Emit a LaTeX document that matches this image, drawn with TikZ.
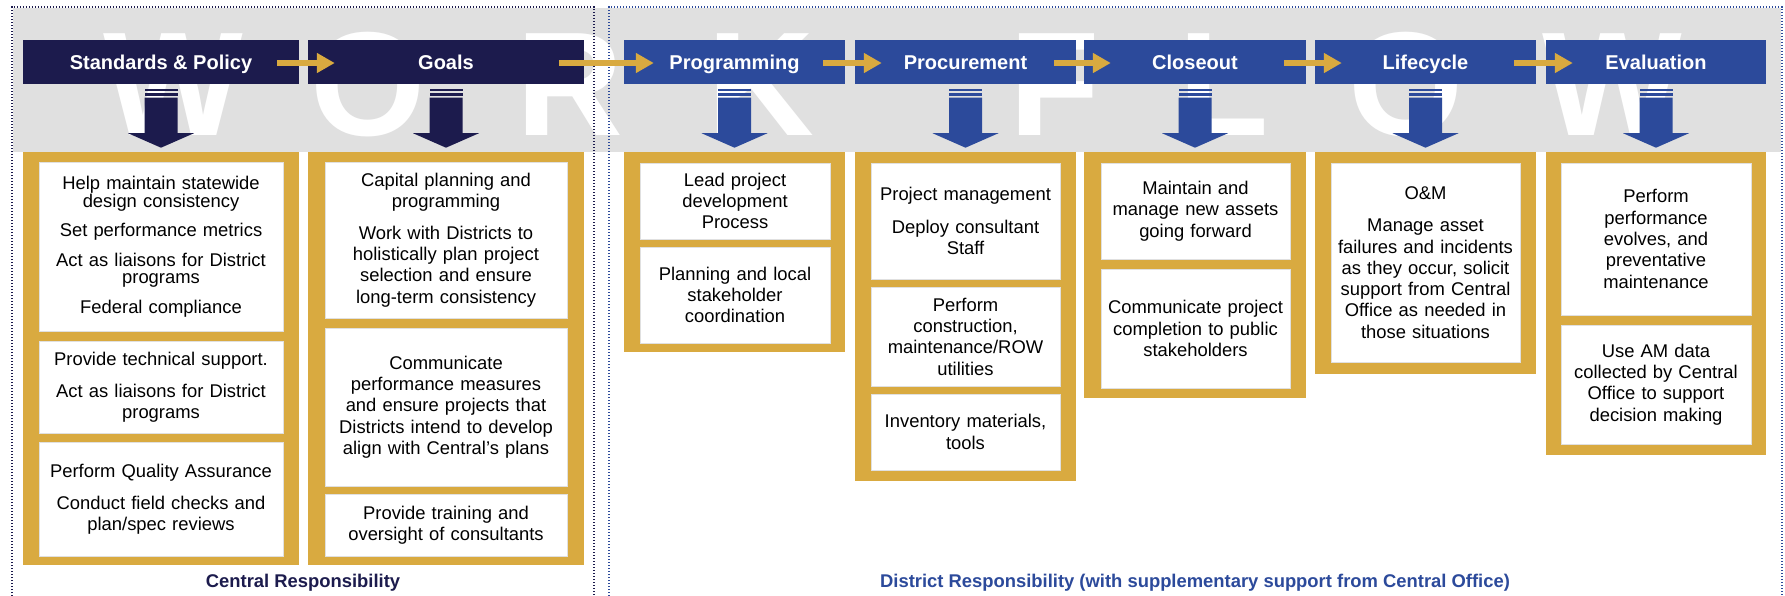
\documentclass[tikz,border=0pt]{standalone}
\usepackage{fontspec}
\setmainfont{Liberation Sans}
\usepackage{xcolor}
\usepackage{tikz}
\usetikzlibrary{arrows.meta}

\definecolor{navy}{RGB}{28,27,77}
\definecolor{distblue}{RGB}{44,74,155}
\definecolor{gold}{RGB}{217,170,64}
\definecolor{band}{RGB}{224,224,224}

\begin{document}
\begin{tikzpicture}[x=1pt, y=-1pt,
  every node/.style={inner sep=0pt, font=\fontsize{18.4}{21.3}\selectfont},
  hdrbox/.style={fill=#1, text=white, minimum height=44pt, text height=15pt, text depth=0pt,
    font=\fontsize{20}{24}\selectfont\bfseries},
  itembox/.style={fill=white, draw=black!12, line width=1pt, align=center, text width=#1},
  wmletter/.style={text=white, anchor=base, font=\fontsize{148}{148}\selectfont\bfseries},
  flowarrow/.style={draw=gold, line width=6pt, -{Triangle[length=18pt,width=19pt]}},
  dotframe/.style={draw=#1, line width=1.6pt, dash pattern=on 1.4pt off 1.6pt},
  resplabel/.style={text=#1, anchor=base, font=\fontsize{18.4}{22}\selectfont\bfseries}]
  \useasboundingbox (0,0) rectangle (1785,595);
  \fill[white] (0,0) rectangle (1785,595);
  % grey band with the WORKFLOW watermark
  \fill[band] (13,8) rectangle (1781,152);
  \node[wmletter] (w1) at (173,135) {W};
  \node[wmletter] (w2) at (368,135) {O};
  \node[wmletter] (w3) at (570,135) {R};
  \node[wmletter] (w4) at (761,135) {K};
  \node[wmletter] (w5) at (1055,135) {F};
  \node[wmletter] (w6) at (1224,135) {L};
  \node[wmletter] (w7) at (1406,135) {O};
  \node[wmletter] (w8) at (1612,135) {W};
  % dotted frames
  \draw[dotframe=navy] (12,596) -- (12,7) -- (594,7) -- (594,596);
  \draw[dotframe=distblue] (609,596) -- (609,7) -- (1782,7) -- (1782,596);
  % headers
  \node[hdrbox=navy, minimum width=276pt] (sp) at (161,61.5) {Standards \& Policy};
  \node[hdrbox=navy, minimum width=276pt] (gl) at (446,61.5) {Goals};
  \node[hdrbox=distblue, minimum width=221pt] (pg) at (734.5,61.5) {Programming};
  \node[hdrbox=distblue, minimum width=221pt] (pc) at (965.5,61.5) {Procurement};
  \node[hdrbox=distblue, minimum width=222pt] (co) at (1195,61.5) {Closeout};
  \node[hdrbox=distblue, minimum width=221pt] (lc) at (1425.5,61.5) {Lifecycle};
  \node[hdrbox=distblue, minimum width=220pt] (ev) at (1656,61.5) {Evaluation};
  % gold arrows between headers
  \draw[flowarrow] ([xshift=-22pt,yshift=-1.5pt]sp.east) -- ([xshift=27pt,yshift=-1.5pt]gl.west);
  \draw[flowarrow] ([xshift=-25pt,yshift=-1.5pt]gl.east) -- ([xshift=30pt,yshift=-1.5pt]pg.west);
  \draw[flowarrow] ([xshift=-22pt,yshift=-1.5pt]pg.east) -- ([xshift=27pt,yshift=-1.5pt]pc.west);
  \draw[flowarrow] ([xshift=-22pt,yshift=-1.5pt]pc.east) -- ([xshift=27pt,yshift=-1.5pt]co.west);
  \draw[flowarrow] ([xshift=-22pt,yshift=-1.5pt]co.east) -- ([xshift=27pt,yshift=-1.5pt]lc.west);
  \draw[flowarrow] ([xshift=-22pt,yshift=-1.5pt]lc.east) -- ([xshift=27pt,yshift=-1.5pt]ev.west);
  % striped down arrows
  \foreach \h/\c in {sp/navy, gl/navy, pg/distblue, pc/distblue, co/distblue, lc/distblue, ev/distblue}{
    \begin{scope}[shift={(\h.south)}]
      \fill[\c] (-16.5,5) rectangle (16.5,7.3);
      \fill[\c] (-16.5,9.3) rectangle (16.5,12);
      \fill[\c] (-16.5,14) -- (16.5,14) -- (16.5,49.5) -- (33,49.5) -- (0,64)
        -- (-33,49.5) -- (-16.5,49.5) -- cycle;
    \end{scope}
  }
  % gold columns
  \fill[gold] (23,152) rectangle (299,565);
  \fill[gold] (308,152) rectangle (584,565);
  \fill[gold] (624,152) rectangle (845,352);
  \fill[gold] (855,152) rectangle (1076,481);
  \fill[gold] (1084,152) rectangle (1306,398);
  \fill[gold] (1315,152) rectangle (1536,374);
  \fill[gold] (1546,152) rectangle (1766,455);
  % Standards & Policy
  \node[itembox=238pt, minimum width=244pt, minimum height=169pt,
    font=\fontsize{18.4}{17.7}\selectfont] (sp1) at (161,246.5)
    {\lineskiplimit=-10pt\relax
     Help maintain statewide\\ design consistency\\[11.8pt] Set performance metrics\\[11.8pt]
     Act as liaisons for District\\ programs\\[11.8pt] Federal compliance};
  \node[itembox=238pt, minimum width=244pt, minimum height=92pt] (sp2) at (161,387)
    {Provide technical support.\\[10.5pt] Act as liaisons for District\\ programs};
  \node[itembox=238pt, minimum width=244pt, minimum height=114pt] (sp3) at (161,499)
    {Perform Quality Assurance\\[10.5pt] Conduct field checks and\\ plan/spec reviews};
  % Goals
  \node[itembox=238pt, minimum width=242pt, minimum height=156pt] (gl1) at (446,240)
    {Capital planning and\\ programming\\[10.5pt] Work with Districts to\\ holistically plan project\\
     selection and ensure\\ long-term consistency};
  \node[itembox=238pt, minimum width=242pt, minimum height=158pt] (gl2) at (446,407)
    {Communicate\\ performance measures\\ and ensure projects that\\ Districts intend to develop\\
     align with Central’s plans};
  \node[itembox=238pt, minimum width=242pt, minimum height=62pt] (gl3) at (446,525)
    {Provide training and\\ oversight of consultants};
  % Programming
  \node[itembox=186pt, minimum width=190pt, minimum height=76pt] (pg1) at (735,201)
    {Lead project\\ development\\ Process};
  \node[itembox=186pt, minimum width=190pt, minimum height=96pt] (pg2) at (735,295)
    {Planning and local\\ stakeholder\\ coordination};
  % Procurement
  \node[itembox=186pt, minimum width=189pt, minimum height=116pt] (pc1) at (965.5,221)
    {Project management\\[11pt] Deploy consultant\\ Staff};
  \node[itembox=186pt, minimum width=189pt, minimum height=99pt] (pc2) at (965.5,336.5)
    {Perform\\ construction,\\ maintenance/ROW\\ utilities};
  \node[itembox=186pt, minimum width=189pt, minimum height=76pt] (pc3) at (965.5,432)
    {Inventory materials,\\ tools};
  % Closeout
  \node[itembox=186pt, minimum width=189pt, minimum height=96pt] (co1) at (1195.5,211)
    {Maintain and\\ manage new assets\\ going forward};
  \node[itembox=186pt, minimum width=189pt, minimum height=119pt] (co2) at (1195.5,328.5)
    {Communicate project\\ completion to public\\ stakeholders};
  % Lifecycle
  \node[itembox=186pt, minimum width=189pt, minimum height=199pt] (lc1) at (1425.5,262.5)
    {O\&M\\[11pt] Manage asset\\ failures and incidents\\ as they occur, solicit\\
     support from Central\\ Office as needed in\\ those situations};
  % Evaluation
  \node[itembox=186pt, minimum width=190pt, minimum height=152pt] (ev1) at (1656,239)
    {Perform\\ performance\\ evolves, and\\ preventative\\ maintenance};
  \node[itembox=186pt, minimum width=190pt, minimum height=119pt] (ev2) at (1656,384.5)
    {Use AM data\\ collected by Central\\ Office to support\\ decision making};
  % responsibility labels
  \node[resplabel=navy] (central) at (303,587) {Central Responsibility};
  \node[resplabel=distblue] (district) at (1195,587)
    {District Responsibility (with supplementary support from Central Office)};
\end{tikzpicture}
\end{document}
